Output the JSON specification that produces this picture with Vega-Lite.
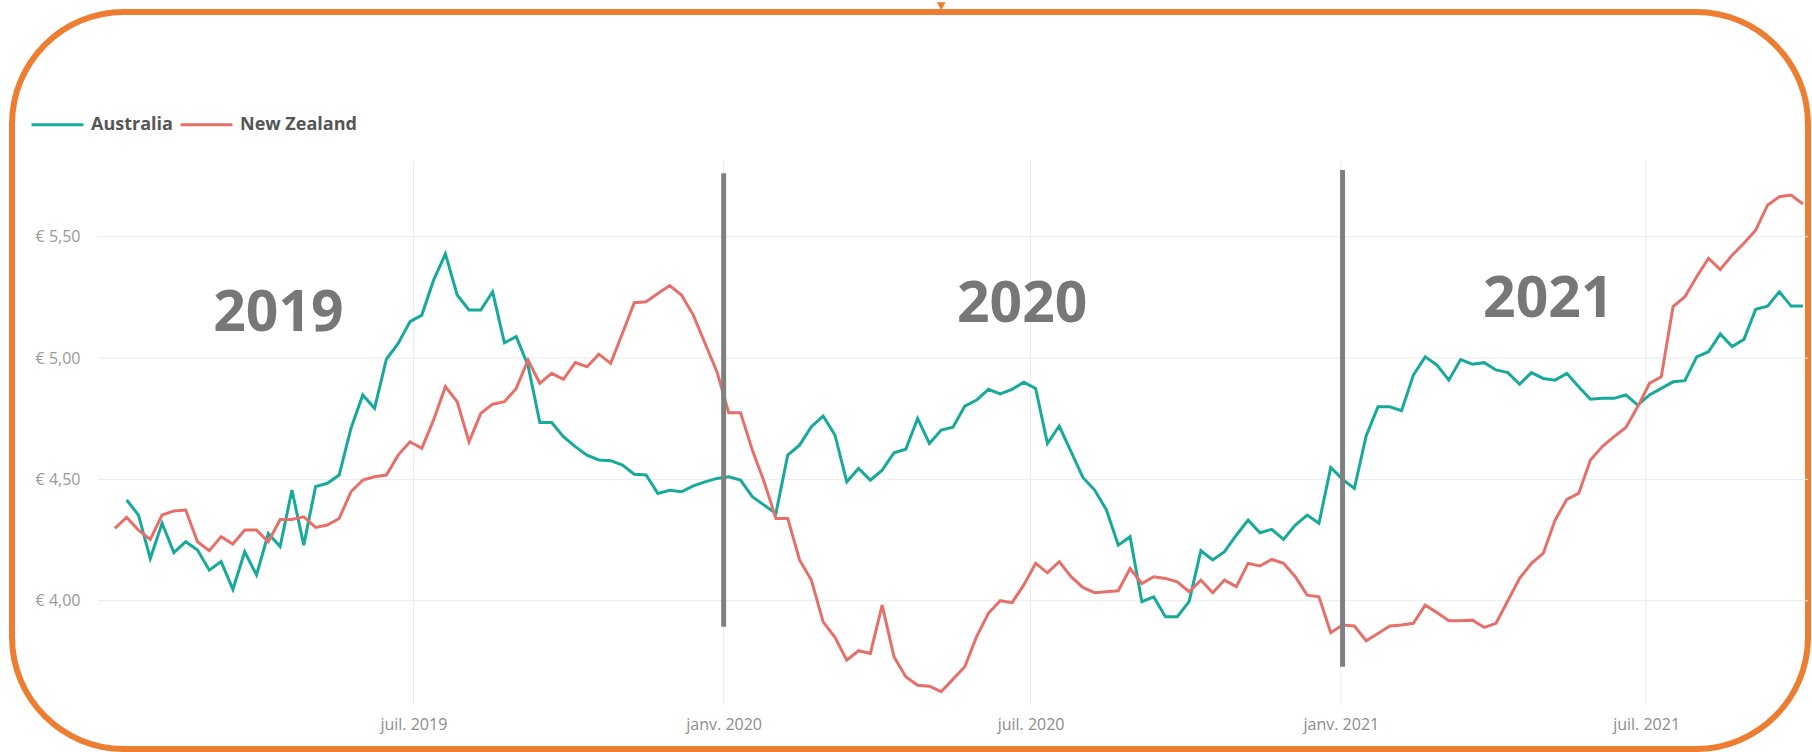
{
 "$schema": "https://vega.github.io/schema/vega-lite/v6.json",
 "width": 1796, "height": 737,
 "autosize": {"type": "none"},
 "padding": {"left": 12, "top": 12, "right": 4, "bottom": 3},
 "background": "white",
 "view": {"stroke": "#ED7D31", "strokeWidth": 6, "cornerRadius": 112},
 "config": {"font": "Open Sans"},
 "datasets": {
  "au": [
   {"date":"2019-01-12","price":4.415},{"date":"2019-01-19","price":4.353},{"date":"2019-01-26","price":4.174},{"date":"2019-02-02","price":4.319},{"date":"2019-02-09","price":4.198},{"date":"2019-02-16","price":4.243},{"date":"2019-02-23","price":4.209},{"date":"2019-03-02","price":4.126},{"date":"2019-03-09","price":4.161},{"date":"2019-03-16","price":4.047},{"date":"2019-03-23","price":4.202},{"date":"2019-03-30","price":4.106},{"date":"2019-04-06","price":4.277},{"date":"2019-04-13","price":4.223},{"date":"2019-04-20","price":4.456},{"date":"2019-04-27","price":4.229},{"date":"2019-05-04","price":4.47},{"date":"2019-05-11","price":4.484},{"date":"2019-05-18","price":4.518},{"date":"2019-05-25","price":4.71},{"date":"2019-06-01","price":4.848},{"date":"2019-06-08","price":4.793},{"date":"2019-06-15","price":4.995},{"date":"2019-06-22","price":5.06},{"date":"2019-06-29","price":5.15},{"date":"2019-07-06","price":5.177},{"date":"2019-07-13","price":5.321},{"date":"2019-07-20","price":5.429},{"date":"2019-07-27","price":5.26},{"date":"2019-08-03","price":5.198},{"date":"2019-08-10","price":5.198},{"date":"2019-08-17","price":5.273},{"date":"2019-08-24","price":5.063},{"date":"2019-08-31","price":5.088},{"date":"2019-09-07","price":4.97},{"date":"2019-09-14","price":4.734},{"date":"2019-09-21","price":4.734},{"date":"2019-09-28","price":4.676},{"date":"2019-10-05","price":4.635},{"date":"2019-10-12","price":4.6},{"date":"2019-10-19","price":4.58},{"date":"2019-10-26","price":4.577},{"date":"2019-11-02","price":4.559},{"date":"2019-11-09","price":4.521},{"date":"2019-11-16","price":4.518},{"date":"2019-11-23","price":4.442},{"date":"2019-11-30","price":4.455},{"date":"2019-12-07","price":4.449},{"date":"2019-12-14","price":4.473},{"date":"2019-12-21","price":4.49},{"date":"2019-12-28","price":4.504},{"date":"2020-01-04","price":4.511},{"date":"2020-01-11","price":4.497},{"date":"2020-01-18","price":4.429},{"date":"2020-01-25","price":4.394},{"date":"2020-02-01","price":4.36},{"date":"2020-02-08","price":4.6},{"date":"2020-02-15","price":4.641},{"date":"2020-02-22","price":4.717},{"date":"2020-02-29","price":4.761},{"date":"2020-03-07","price":4.683},{"date":"2020-03-14","price":4.49},{"date":"2020-03-21","price":4.545},{"date":"2020-03-28","price":4.497},{"date":"2020-04-04","price":4.538},{"date":"2020-04-11","price":4.61},{"date":"2020-04-18","price":4.624},{"date":"2020-04-25","price":4.751},{"date":"2020-05-02","price":4.648},{"date":"2020-05-09","price":4.703},{"date":"2020-05-16","price":4.715},{"date":"2020-05-23","price":4.802},{"date":"2020-05-30","price":4.827},{"date":"2020-06-06","price":4.871},{"date":"2020-06-13","price":4.852},{"date":"2020-06-20","price":4.871},{"date":"2020-06-27","price":4.9},{"date":"2020-07-04","price":4.875},{"date":"2020-07-11","price":4.648},{"date":"2020-07-18","price":4.72},{"date":"2020-07-25","price":4.614},{"date":"2020-08-01","price":4.508},{"date":"2020-08-08","price":4.456},{"date":"2020-08-15","price":4.374},{"date":"2020-08-22","price":4.229},{"date":"2020-08-29","price":4.264},{"date":"2020-09-05","price":3.996},{"date":"2020-09-12","price":4.016},{"date":"2020-09-19","price":3.934},{"date":"2020-09-26","price":3.934},{"date":"2020-10-03","price":3.996},{"date":"2020-10-10","price":4.206},{"date":"2020-10-17","price":4.168},{"date":"2020-10-24","price":4.202},{"date":"2020-10-31","price":4.27},{"date":"2020-11-07","price":4.332},{"date":"2020-11-14","price":4.28},{"date":"2020-11-21","price":4.294},{"date":"2020-11-28","price":4.253},{"date":"2020-12-05","price":4.312},{"date":"2020-12-12","price":4.353},{"date":"2020-12-19","price":4.319},{"date":"2020-12-26","price":4.549},{"date":"2021-01-02","price":4.5},{"date":"2021-01-09","price":4.463},{"date":"2021-01-16","price":4.679},{"date":"2021-01-23","price":4.799},{"date":"2021-01-30","price":4.799},{"date":"2021-02-06","price":4.783},{"date":"2021-02-13","price":4.93},{"date":"2021-02-20","price":5.005},{"date":"2021-02-27","price":4.971},{"date":"2021-03-06","price":4.909},{"date":"2021-03-13","price":4.994},{"date":"2021-03-20","price":4.975},{"date":"2021-03-27","price":4.981},{"date":"2021-04-03","price":4.951},{"date":"2021-04-10","price":4.94},{"date":"2021-04-17","price":4.892},{"date":"2021-04-24","price":4.94},{"date":"2021-05-01","price":4.916},{"date":"2021-05-08","price":4.909},{"date":"2021-05-15","price":4.937},{"date":"2021-05-22","price":4.882},{"date":"2021-05-29","price":4.83},{"date":"2021-06-05","price":4.834},{"date":"2021-06-12","price":4.834},{"date":"2021-06-19","price":4.848},{"date":"2021-06-26","price":4.806},{"date":"2021-07-03","price":4.848},{"date":"2021-07-10","price":4.875},{"date":"2021-07-17","price":4.902},{"date":"2021-07-24","price":4.907},{"date":"2021-07-31","price":5.005},{"date":"2021-08-07","price":5.026},{"date":"2021-08-14","price":5.099},{"date":"2021-08-21","price":5.047},{"date":"2021-08-28","price":5.077},{"date":"2021-09-04","price":5.201},{"date":"2021-09-11","price":5.214},{"date":"2021-09-18","price":5.273},{"date":"2021-09-25","price":5.214},{"date":"2021-10-02","price":5.214}
  ],
  "nz": [
   {"date":"2019-01-05","price":4.298},{"date":"2019-01-12","price":4.343},{"date":"2019-01-19","price":4.291},{"date":"2019-01-26","price":4.253},{"date":"2019-02-02","price":4.353},{"date":"2019-02-09","price":4.37},{"date":"2019-02-16","price":4.374},{"date":"2019-02-23","price":4.243},{"date":"2019-03-02","price":4.206},{"date":"2019-03-09","price":4.264},{"date":"2019-03-16","price":4.234},{"date":"2019-03-23","price":4.291},{"date":"2019-03-30","price":4.291},{"date":"2019-04-06","price":4.243},{"date":"2019-04-13","price":4.335},{"date":"2019-04-20","price":4.335},{"date":"2019-04-27","price":4.346},{"date":"2019-05-04","price":4.302},{"date":"2019-05-11","price":4.312},{"date":"2019-05-18","price":4.339},{"date":"2019-05-25","price":4.449},{"date":"2019-06-01","price":4.497},{"date":"2019-06-08","price":4.511},{"date":"2019-06-15","price":4.518},{"date":"2019-06-22","price":4.6},{"date":"2019-06-29","price":4.655},{"date":"2019-07-06","price":4.628},{"date":"2019-07-13","price":4.745},{"date":"2019-07-20","price":4.882},{"date":"2019-07-27","price":4.82},{"date":"2019-08-03","price":4.655},{"date":"2019-08-10","price":4.772},{"date":"2019-08-17","price":4.81},{"date":"2019-08-24","price":4.82},{"date":"2019-08-31","price":4.875},{"date":"2019-09-07","price":4.992},{"date":"2019-09-14","price":4.896},{"date":"2019-09-21","price":4.937},{"date":"2019-09-28","price":4.912},{"date":"2019-10-05","price":4.981},{"date":"2019-10-12","price":4.964},{"date":"2019-10-19","price":5.016},{"date":"2019-10-26","price":4.978},{"date":"2019-11-02","price":5.102},{"date":"2019-11-09","price":5.228},{"date":"2019-11-16","price":5.232},{"date":"2019-11-23","price":5.266},{"date":"2019-11-30","price":5.299},{"date":"2019-12-07","price":5.26},{"date":"2019-12-14","price":5.177},{"date":"2019-12-21","price":5.06},{"date":"2019-12-28","price":4.944},{"date":"2020-01-04","price":4.775},{"date":"2020-01-11","price":4.775},{"date":"2020-01-18","price":4.621},{"date":"2020-01-25","price":4.49},{"date":"2020-02-01","price":4.339},{"date":"2020-02-08","price":4.339},{"date":"2020-02-15","price":4.168},{"date":"2020-02-22","price":4.085},{"date":"2020-02-29","price":3.913},{"date":"2020-03-07","price":3.849},{"date":"2020-03-14","price":3.755},{"date":"2020-03-21","price":3.794},{"date":"2020-03-28","price":3.783},{"date":"2020-04-04","price":3.982},{"date":"2020-04-11","price":3.769},{"date":"2020-04-18","price":3.687},{"date":"2020-04-25","price":3.652},{"date":"2020-05-02","price":3.648},{"date":"2020-05-09","price":3.625},{"date":"2020-05-16","price":3.677},{"date":"2020-05-23","price":3.728},{"date":"2020-05-30","price":3.852},{"date":"2020-06-06","price":3.948},{"date":"2020-06-13","price":4.0},{"date":"2020-06-20","price":3.992},{"date":"2020-06-27","price":4.065},{"date":"2020-07-04","price":4.154},{"date":"2020-07-11","price":4.115},{"date":"2020-07-18","price":4.161},{"date":"2020-07-25","price":4.099},{"date":"2020-08-01","price":4.055},{"date":"2020-08-08","price":4.033},{"date":"2020-08-15","price":4.037},{"date":"2020-08-22","price":4.041},{"date":"2020-08-29","price":4.133},{"date":"2020-09-05","price":4.071},{"date":"2020-09-12","price":4.099},{"date":"2020-09-19","price":4.092},{"date":"2020-09-26","price":4.078},{"date":"2020-10-03","price":4.037},{"date":"2020-10-10","price":4.085},{"date":"2020-10-17","price":4.033},{"date":"2020-10-24","price":4.085},{"date":"2020-10-31","price":4.058},{"date":"2020-11-07","price":4.154},{"date":"2020-11-14","price":4.143},{"date":"2020-11-21","price":4.17},{"date":"2020-11-28","price":4.154},{"date":"2020-12-05","price":4.099},{"date":"2020-12-12","price":4.023},{"date":"2020-12-19","price":4.016},{"date":"2020-12-26","price":3.868},{"date":"2021-01-02","price":3.9},{"date":"2021-01-09","price":3.896},{"date":"2021-01-16","price":3.835},{"date":"2021-01-23","price":3.865},{"date":"2021-01-30","price":3.896},{"date":"2021-02-06","price":3.9},{"date":"2021-02-13","price":3.907},{"date":"2021-02-20","price":3.982},{"date":"2021-02-27","price":3.951},{"date":"2021-03-06","price":3.918},{"date":"2021-03-13","price":3.918},{"date":"2021-03-20","price":3.92},{"date":"2021-03-27","price":3.89},{"date":"2021-04-03","price":3.907},{"date":"2021-04-10","price":4.0},{"date":"2021-04-17","price":4.092},{"date":"2021-04-24","price":4.154},{"date":"2021-05-01","price":4.195},{"date":"2021-05-08","price":4.332},{"date":"2021-05-15","price":4.418},{"date":"2021-05-22","price":4.442},{"date":"2021-05-29","price":4.58},{"date":"2021-06-05","price":4.635},{"date":"2021-06-12","price":4.676},{"date":"2021-06-19","price":4.714},{"date":"2021-06-26","price":4.799},{"date":"2021-07-03","price":4.896},{"date":"2021-07-10","price":4.923},{"date":"2021-07-17","price":5.212},{"date":"2021-07-24","price":5.253},{"date":"2021-07-31","price":5.335},{"date":"2021-08-07","price":5.411},{"date":"2021-08-14","price":5.365},{"date":"2021-08-21","price":5.424},{"date":"2021-08-28","price":5.473},{"date":"2021-09-04","price":5.527},{"date":"2021-09-11","price":5.63},{"date":"2021-09-18","price":5.665},{"date":"2021-09-25","price":5.672},{"date":"2021-10-02","price":5.635}
  ]
 },
 "layer": [
  {
   "data": {"values": [{"v": 4}, {"v": 4.5}, {"v": 5}, {"v": 5.5}]},
   "mark": {"type": "rule", "color": "#ebebeb", "strokeWidth": 1},
   "encoding": {
    "y": {"field": "v", "type": "quantitative", "title": null,
     "scale": {"domain": [3.389, 6.426], "nice": false, "zero": false},
     "axis": {"title": null, "orient": "left", "offset": -68, "domain": false, "ticks": false, "tickSize": 0, "grid": false, "labelPadding": 0,
      "values": [4, 4.5, 5, 5.5],
      "labelExpr": "'€ ' + replace(format(datum.value, '.2f'), '.', ',')",
      "labelFont": "Open Sans", "labelFontSize": 16, "labelColor": "#999999"}},
    "x": {"datum": {"year": 2018, "month": 12, "date": 26, "utc": true}, "type": "temporal", "title": null,
     "scale": {"type": "utc", "domain": [{"year": 2018, "month": 11, "date": 5, "utc": true}, {"year": 2021, "month": 10, "date": 5, "utc": true}]},
     "axis": {"title": null, "orient": "bottom", "offset": -36, "domain": false, "ticks": false, "tickSize": 0, "grid": false, "labelPadding": 3,
      "values": [{"year": 2019, "month": 7, "date": 1, "utc": true}, {"year": 2020, "month": 1, "date": 1, "utc": true}, {"year": 2020, "month": 7, "date": 1, "utc": true}, {"year": 2021, "month": 1, "date": 1, "utc": true}, {"year": 2021, "month": 7, "date": 1, "utc": true}],
      "labelExpr": "(utcmonth(datum.value) == 0 ? 'janv. ' : 'juil. ') + utcyear(datum.value)",
      "labelFont": "Open Sans", "labelFontSize": 16, "labelColor": "#8c8c8c"}},
    "x2": {"datum": {"year": 2021, "month": 10, "date": 5, "utc": true}}
   }
  },
  {
   "data": {"values": [{"d": "2019-07-01"}, {"d": "2020-01-01"}, {"d": "2020-07-01"}, {"d": "2021-01-01"}, {"d": "2021-07-01"}]},
   "mark": {"type": "rule", "color": "#ebebeb", "strokeWidth": 1},
   "encoding": {
    "x": {"field": "d", "type": "temporal", "title": null},
    "y": {"datum": 3.57, "type": "quantitative", "title": null},
    "y2": {"datum": 5.816}
   }
  },
  {
   "data": {"name": "au"},
   "transform": [{"calculate": "'Australia'", "as": "country"}],
   "mark": {"type": "line", "strokeWidth": 3, "interpolate": "linear"},
   "encoding": {
    "x": {"field": "date", "type": "temporal", "title": null},
    "y": {"field": "price", "type": "quantitative", "title": null},
    "color": {"datum": "Australia", "type": "nominal",
     "scale": {"domain": ["Australia", "New Zealand"], "range": ["#17A99A", "#E5706A"]},
     "legend": {"title": null, "orient": "none", "legendX": 18, "legendY": 85, "direction": "horizontal", "symbolType": "stroke", "symbolSize": 2700, "symbolStrokeWidth": 3, "labelFont": "Open Sans", "labelFontWeight": "bold", "labelFontSize": 18, "labelColor": "#555555", "labelOffset": 6, "columnPadding": 1}}
   }
  },
  {
   "data": {"name": "nz"},
   "mark": {"type": "line", "strokeWidth": 3, "interpolate": "linear"},
   "encoding": {
    "x": {"field": "date", "type": "temporal", "title": null},
    "y": {"field": "price", "type": "quantitative", "title": null},
    "color": {"datum": "New Zealand", "type": "nominal"}
   }
  },
  {
   "data": {"values": [{"d": "2020-01-01", "top": 5.762, "bottom": 3.893}, {"d": "2021-01-02", "top": 5.775, "bottom": 3.728}]},
   "mark": {"type": "rule", "color": "#808080", "strokeWidth": 5},
   "encoding": {
    "x": {"field": "d", "type": "temporal", "title": null},
    "y": {"field": "top", "type": "quantitative", "title": null},
    "y2": {"field": "bottom"}
   }
  },
  {
   "data": {"values": [{"label": "2019", "d": "2019-04-12", "v": 5.18}, {"label": "2020", "d": "2020-06-26", "v": 5.219}, {"label": "2021", "d": "2021-05-04", "v": 5.239}]},
   "mark": {"type": "text", "font": "Open Sans", "fontWeight": "bold", "fontSize": 57, "color": "#777777", "align": "center", "baseline": "middle"},
   "encoding": {
    "x": {"field": "d", "type": "temporal", "title": null},
    "y": {"field": "v", "type": "quantitative", "title": null},
    "text": {"field": "label"}
   }
  },
  {
   "data": {"values": [{"d": "2020-05-09", "v": 6.45}]},
   "mark": {"type": "point", "shape": "triangle-down", "filled": true, "color": "#ED7D31", "size": 80, "opacity": 1},
   "encoding": {
    "x": {"field": "d", "type": "temporal", "title": null},
    "y": {"field": "v", "type": "quantitative", "title": null}
   }
  }
 ]
}
